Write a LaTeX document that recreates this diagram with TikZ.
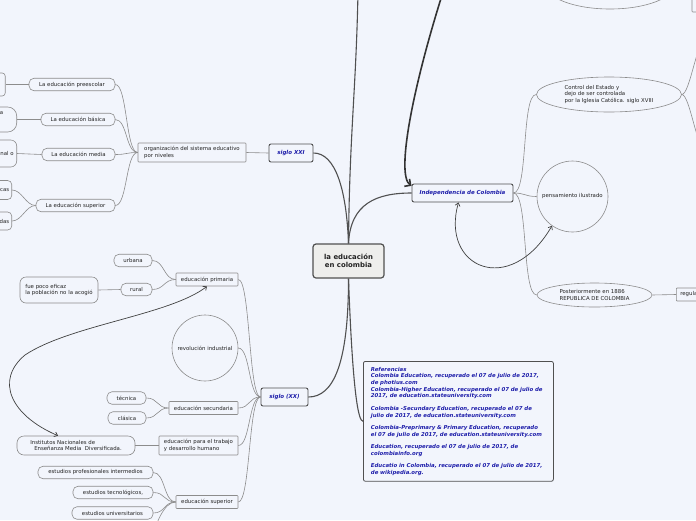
\documentclass[tikz,border=0pt]{standalone}
\usepackage{fontspec}
\setmainfont{DejaVu Sans}
\usetikzlibrary{shapes.geometric,arrows.meta,calc}
\definecolor{bg}{RGB}{242,245,252}
\definecolor{lgray}{RGB}{140,140,140}
\definecolor{dgray}{RGB}{80,80,80}
\definecolor{txt}{RGB}{35,35,35}
\definecolor{blu}{RGB}{30,30,170}
\definecolor{cfill}{RGB}{238,238,236}
\newcommand{\fsn}{\fontsize{5.4}{6.7}\selectfont}
\newcommand{\fsb}{\fontsize{5.5}{6.7}\selectfont\bfseries\itshape}
\newcommand{\fsr}{\fontsize{5.4}{6.7}\selectfont\bfseries\itshape}
\newcommand{\fsc}{\fontsize{6.9}{8}\selectfont\bfseries}
\tikzset{
  pill/.style={draw=lgray, line width=0.6pt, fill=bg, rounded corners=5pt, inner sep=0pt, minimum height=12.5pt, font=\fsn, text=txt},
  rbox/.style={draw=lgray, line width=0.6pt, fill=bg, rounded corners=0.8pt, inner sep=0pt, minimum height=13pt, font=\fsn, text=txt},
  part/.style={draw=lgray, line width=0.6pt, fill=bg, inner sep=0pt, font=\fsn, text=txt},
  plaintext/.style={inner sep=0pt, font=\fsn, text=txt},
  mainbox/.style={draw=dgray, line width=0.9pt, fill=bg, rounded corners=2pt, inner sep=0pt, minimum height=18pt, font=\fsb, text=blu},
  cenbox/.style={draw=dgray, line width=1.2pt, fill=cfill, rounded corners=3pt, inner sep=0pt, minimum width=71pt, minimum height=34pt, align=center, font=\fsc, text=txt},
  oval/.style={draw=lgray, line width=0.6pt, fill=bg, ellipse, inner sep=0pt, font=\fsn, text=txt},
  circ/.style={draw=lgray, line width=0.6pt, fill=bg, circle, inner sep=0pt, font=\fsn, text=txt},
  refbox/.style={draw=dgray, line width=0.8pt, fill=bg, rounded corners=2pt, text width=175pt, inner xsep=7.5pt, inner ysep=5.5pt, align=left, font=\fsr, text=blu},
  conn/.style={draw=lgray, line width=0.6pt},
  mconn/.style={draw=dgray, line width=1.1pt},
  relarr/.style={draw=black!75, line width=0.7pt, {Straight Barb[length=3pt,width=5pt]}-{Straight Barb[length=3pt,width=5pt]}},
  bigarr/.style={draw=black!80, line width=1.6pt, -{Straight Barb[length=4.5pt,width=9pt]}},
  mmleft/.style={to path={.. controls +(-#1,0) and +(#1,0) .. (\tikztotarget)}},
  mmleft/.default=12,
  mmright/.style={to path={.. controls +(#1,0) and +(-#1,0) .. (\tikztotarget)}},
  mmright/.default=12,
}
\begin{document}
\begin{tikzpicture}[x=1pt,y=-1pt]
\fill[bg] (0,0) rectangle (696,520);
\useasboundingbox (0,0) rectangle (696,520);
\clip (0,0) rectangle (696,520);

% central
\node[cenbox] (cen) at (348.5,261) {la educación\\ en colombia};

% siglo XXI branch
\node[mainbox, minimum width=44pt] (sxxi) at (291,153) {siglo XXI};
\node[rbox, minimum width=108pt, minimum height=19pt, align=left] (org) at (192,152.5) {organización del sistema educativo\\por niveles};
\node[pill, minimum width=86pt] (pre) at (72,84.5) {La educación preescolar};
\node[pill, minimum width=74pt] (bas) at (78,119.5) {La educación básica};
\node[pill, minimum width=73pt] (med) at (78.5,154.5) {La educación media};
\node[pill, minimum width=79pt] (sup) at (75.5,205.5) {La educación superior};

\node[part, rounded corners=3pt, minimum width=50pt, minimum height=23pt, anchor=east] (pre2) at (5.5,84.5) {};
\node[part, rounded corners=9pt, minimum width=50pt, minimum height=25pt, anchor=east] (bas2) at (17,119.5) {};
\node[plaintext, anchor=base east] (bas2t) at (3.5,114.5) {a};
\node[part, rounded corners=6pt, minimum height=27pt, text width=30pt, align=right, inner xsep=3pt, anchor=east] (med2) at (17,153.5) {nal o};
\node[part, rounded corners=4pt, minimum height=19pt, text width=30pt, align=right, inner xsep=2.5pt, anchor=east] (sup2a) at (12,190) {cas};
\node[part, rounded corners=4pt, minimum height=18pt, text width=30pt, align=right, inner xsep=2.5pt, anchor=east] (sup2b) at (12,221) {das};

% siglo XX branch
\node[mainbox, minimum width=47pt] (sxx) at (284.5,397) {siglo (XX)};
\node[rbox, minimum width=62pt] (prim) at (207,279.5) {educación primaria};
\node[pill, minimum width=38pt] (urb) at (133,260.5) {urbana};
\node[pill, minimum width=31pt] (rur) at (136.5,289.5) {rural};
\node[pill, rounded corners=6pt, minimum width=78pt, minimum height=26pt, align=left] (poco) at (59,290) {fue poco eficaz\\la población no la acogió};
\node[circ, minimum size=66pt] (rev) at (205,348) {revolución industrial};
\node[rbox, minimum width=69pt] (sec) at (203.5,408) {educación secundaria};
\node[pill, minimum width=39pt] (tec) at (126.5,398) {técnica};
\node[pill, minimum width=38pt] (cla) at (127,418) {clásica};
\node[rbox, minimum width=79pt, minimum height=19pt, align=left] (trab) at (198.5,445.5) {educación para el trabajo\\y desarrollo humano};
\node[pill, rounded corners=7pt, minimum width=118pt, minimum height=19pt, align=left] (inst) at (76,445.5) {Institutos Nacionales de\\\hspace*{4pt}Enseñanza Media\ \ Diversificada.};
\node[rbox, minimum width=62pt] (esup) at (207,502) {educación superior};
\node[pill, minimum width=115pt] (epi) at (95.5,472.5) {estudios profesionales intermedios};
\node[pill, minimum width=80pt] (etec) at (113,492.5) {estudios tecnológicos,};
\node[pill, minimum width=81pt] (euni) at (112.5,513) {estudios universitarios};
\coordinate (esupx) at (150,545);

% references
\node[refbox, anchor=north west] (refs) at (363,361) {Referencias\\
Colombia Education, recuperado el 07 de julio de 2017,\\
de photius.com\\
Colombia-Higher Education, recuperado el 07 de julio de\\
2017, de education.stateuniversity.com\\[5.8pt]
Colombia -Secundary Education, recuperado el 07 de\\
julio de 2017, de education.stateuniversity.com\\[5.8pt]
Colombia-Preprimary \& Primary Education, recuperado\\
el 07 de julio de 2017, de education.stateuniversity.com\\[5.8pt]
Education, recuperado el 07 de julio de 2017, de\\
colombiainfo.org\\[5.8pt]
Educatio in Colombia, recuperado el 07 de julio de 2017,\\
de wikipedia.org.};

% Independencia branch
\node[mainbox, minimum width=101pt] (ind) at (462.5,193) {Independencia de Colombia};
\node[oval, minimum width=145pt, minimum height=35pt, align=left] (ctrl) at (609,94.5) {Control del Estado y\\dejo de ser controlada\\por la Iglesia Católica. siglo XVIII};
\node[circ, minimum size=71pt] (pens) at (572.5,196.5) {pensamiento ilustrado};
\node[oval, minimum width=115pt, minimum height=24pt, align=left] (post) at (594.5,295) {Posteriormente en 1886\\REPUBLICA DE COLOMBIA};
\node[rbox, anchor=west, inner xsep=4pt] (reg) at (676,294.5) {regula};
\node[oval, minimum width=130pt, minimum height=50pt] (topell) at (610,-16) {};
\node[rbox, minimum width=36pt, minimum height=34pt] (toprect) at (710,-5) {};
\coordinate (cc1) at (705,40);
\coordinate (cc2) at (705,150);
\coordinate (topend) at (358,-8);
\coordinate (arrstart) at (443,-8);

% connectors: siglo XXI
\draw[conn] (sxxi.west) -- (org.east);
\foreach \n in {pre,bas,med,sup} \draw[conn] (org.west) to[mmleft] (\n.east);
\draw[conn] (pre.west) -- (pre2.east);
\draw[conn] (bas.west) -- (bas2.east);
\draw[conn] (med.west) -- (med2.east);
\draw[conn] (sup.west) to[mmleft=10] (sup2a.east);
\draw[conn] (sup.west) to[mmleft=10] (sup2b.east);

% connectors: siglo XX
\foreach \n in {prim,rev,sec,trab,esup} \draw[conn] (sxx.west) to[mmleft] (\n.east);
\draw[conn] (prim.west) to[mmleft] (urb.east);
\draw[conn] (prim.west) to[mmleft] (rur.east);
\draw[conn] (rur.west) -- (poco.east);
\draw[conn] (sec.west) to[mmleft] (tec.east);
\draw[conn] (sec.west) to[mmleft] (cla.east);
\draw[conn] (trab.west) -- (inst.east);
\foreach \n in {epi,etec,euni} \draw[conn] (esup.west) to[mmleft] (\n.east);
\draw[conn] (esup.west) .. controls +(-12,0) and +(5,-20) .. (esupx);

% connectors: Independencia
\draw[conn] (ind.east) to[mmright=15] (ctrl.west);
\draw[conn] (ind.east) to[mmright=12] (pens.west);
\draw[conn] (ind.east) to[mmright=15] (post.west);
\draw[conn] (post.east) -- (reg.west);
\draw[conn] (ctrl.east) to[mmright=8] (cc1);
\draw[conn] (ctrl.east) to[mmright=8] (cc2);

% central connectors
\draw[mconn] (cen.north) .. controls +(-2,-54) and +(22,0) .. (sxxi.east);
\draw[mconn] (cen.north) .. controls +(1,-110) and +(-2,100) .. (topend);
\draw[mconn] (cen.north) .. controls +(2,-40) and +(-35,0) .. (ind.west);
\draw[mconn] (cen.south) .. controls +(0,85) and +(25,0) .. (sxx.east);
\draw[mconn] (cen.south) .. controls +(4,110) and +(-5,0) .. (refs.west);

% relation arrows
\draw[bigarr] (arrstart) .. controls (412,90) and (396,175) .. (ind.172);
\draw[relarr] ([xshift=-18pt]inst.north) .. controls (10,415) and (-5,380) .. (25,355) .. controls (70,325) and (170,315) .. (prim.south);
\draw[relarr] ([xshift=-4pt]ind.south) .. controls (440,268) and (510,298) .. (pens.235);
\end{tikzpicture}
\end{document}
